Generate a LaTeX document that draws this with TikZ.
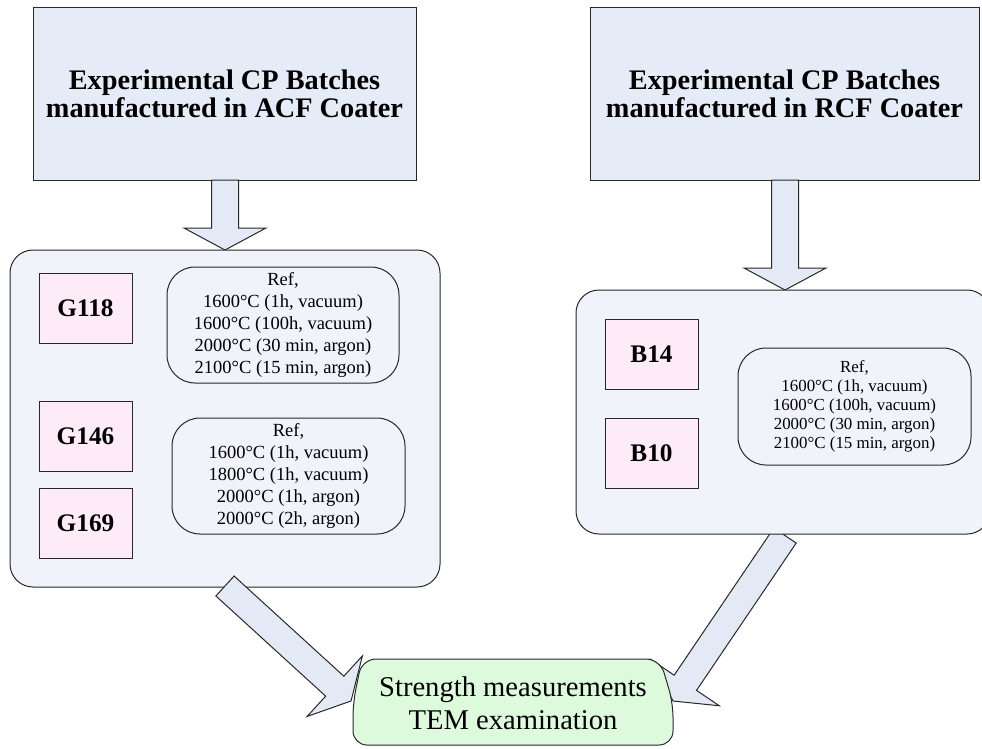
\documentclass[tikz,border=0pt]{standalone}
\usepackage{fontspec}
\setmainfont{Liberation Serif}
\usetikzlibrary{calc}

\definecolor{titlefill}{RGB}{230,236,247}
\definecolor{panelfill}{RGB}{240,243,250}
\definecolor{arrowfill}{RGB}{228,234,245}
\definecolor{batchfill}{RGB}{253,235,248}
\definecolor{resultfill}{RGB}{221,250,221}
\definecolor{edgecol}{RGB}{40,40,40}

\tikzset{
  outline/.style={draw=edgecol, line width=1pt},
  titlebox/.style={outline, fill=titlefill, minimum width=383pt, minimum height=173pt,
    inner sep=0pt, align=center, font=\fontsize{28.3}{28}\selectfont\bfseries},
  panel/.style={outline, fill=panelfill, rounded corners=23pt, inner sep=0pt},
  batch/.style={outline, fill=batchfill, minimum width=93pt, minimum height=70pt,
    inner sep=0pt, font=\fontsize{25.3}{26}\selectfont\bfseries},
  treat/.style={outline, fill=panelfill, rounded corners=28pt, minimum width=232pt,
    minimum height=116pt, inner sep=0pt, align=center, font=\fontsize{18.5}{22}\selectfont},
  treatsmall/.style={treat, font=\fontsize{16.9}{19}\selectfont},
  fatarrow/.style={outline, fill=arrowfill, line join=miter},
  result/.style={outline, fill=resultfill, rounded corners=14pt},
  resulttext/.style={align=center, inner sep=0pt, font=\fontsize{28.6}{33}\selectfont},
}

% block arrow from the tail coordinate #1 to the tip coordinate #2
\newcommand\fatarrowpath[2]{%
  \coordinate (#1-neck) at ($(#2)!22pt!(#1)$);
  \draw[fatarrow]
    ($(#1)!13.5pt!90:(#2)$) --
    ($(#1-neck)!13.5pt!90:(#2)$) --
    ($(#1-neck)!41pt!90:(#2)$) --
    (#2) --
    ($(#1-neck)!41pt!-90:(#2)$) --
    ($(#1-neck)!13.5pt!-90:(#2)$) --
    ($(#1)!13.5pt!-90:(#2)$) -- cycle;
}

\begin{document}
\begin{tikzpicture}[x=1pt, y=-1pt]
\useasboundingbox (0,0) rectangle (982,748);

% coater boxes
\node[titlebox] (acf) at (224.5,93.5) {Experimental CP Batches\\manufactured in ACF Coater};
\node[titlebox, minimum width=389pt] (rcf) at (784.5,93.5) {Experimental CP Batches\\manufactured in RCF Coater};

% arrows into the batch panels
\coordinate (acfdown) at (225,180);
\coordinate (acfdown-tip) at (225,250);
\coordinate (rcfdown) at (785,180);
\coordinate (rcfdown-tip) at (785,290);
\fatarrowpath{acfdown}{acfdown-tip}
\fatarrowpath{rcfdown}{rcfdown-tip}

% arrow from the RCF panel to the results (passes under the panel)
\coordinate (rcfout) at (785,535.5);
\coordinate (rcfout-tip) at (673,701);
\fatarrowpath{rcfout}{rcfout-tip}

% batch panels
\node[panel, minimum width=430pt, minimum height=337pt] (acfpanel) at (225,418.5) {};
\node[panel, minimum width=414pt, minimum height=244pt] (rcfpanel) at (783,412) {};

% ACF batches and their treatments
\node[batch] (g118) at (85.5,308) {G118};
\node[batch] (g146) at (85.5,436) {G146};
\node[batch] (g169) at (85.5,523) {G169};
\node[treat] (acftreatA) at (283,325) {Ref,\\1600°C (1h, vacuum)\\1600°C (100h, vacuum)\\2000°C (30 min, argon)\\2100°C (15 min, argon)};
\node[treat, minimum width=233pt] (acftreatB) at (288.5,476) {Ref,\\1600°C (1h, vacuum)\\1800°C (1h, vacuum)\\2000°C (1h, argon)\\2000°C (2h, argon)};

% RCF batches and their treatments
\node[batch] (b14) at (651.5,354) {B14};
\node[batch] (b10) at (651.5,453) {B10};
\node[treatsmall, minimum width=233pt, minimum height=117pt] (rcftreat) at (854.5,406.5) {Ref,\\1600°C (1h, vacuum)\\1600°C (100h, vacuum)\\2000°C (30 min, argon)\\2100°C (15 min, argon)};

% arrow from the ACF panel to the results (drawn over the panel)
\coordinate (acfout) at (225,586);
\coordinate (acfout-tip) at (351,701);
\fatarrowpath{acfout}{acfout-tip}

% results box
\draw[result] (353,703) -- (362,659) -- (660,659) -- (673,703) -- (673,745) -- (353,745) -- cycle;
\node[resulttext] (results) at (513,703) {Strength measurements\\TEM examination};
\end{tikzpicture}
\end{document}
